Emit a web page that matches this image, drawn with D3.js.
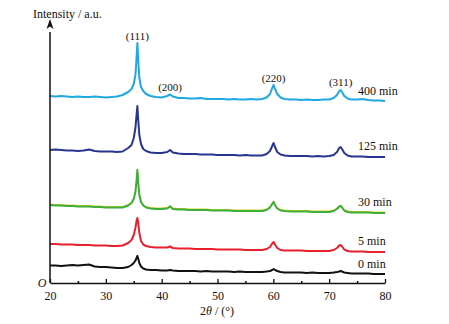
<!DOCTYPE html>
<html>
<head>
<meta charset="utf-8">
<script src="https://cdn.jsdelivr.net/npm/d3@7"></script>
<style>
  body { margin: 0; background: #fff; }
  svg { display: block; }
  text { font-family: "Liberation Serif", "DejaVu Serif", serif; fill: #111; }
</style>
</head>
<body>
<script>
// 2theta grid (degrees), shared by every pattern
var twoTheta = [20,21,22,23,24,25,26,27,28,29,30,31,32,33,34,
  34.6,35,35.3,35.5,35.65,35.8,36,36.3,36.7,37.2,
  38,39,40,41, 41.5,42,
  43,44,45,46,47,48,49,50,51,52,53,54,55,56,57,58,
  58.8,59.4,59.8,60.05,60.3,60.7,61.3,
  62,63,64,65,66,67,68,69,70,
  70.8,71.4,71.8,72.05,72.3,72.7,73.3,
  74,75,76,77,78,79,80];

// intensities (a.u., curves stacked)
var int400 = [187,186.5,187,186.5,186,186.5,186,186,186.5,186,185.5,186,186.5,188,191,
  194,199,208,225,240,223,205,196,192,189,
  187,186,185.5,187, 188.5,186.5,
  185,185,184.5,184.5,185,184,184,184,184,183.5,184,183.5,183.5,184,183.5,184,
  185.5,189,195,198,194,189,185.5,
  184,183.5,183.5,183,183.5,183,183,183.5,183.5,
  185,188,192,193,191,187,184.5,
  183.5,183.5,184,183,182.5,182.5,182];

var int125 = [133,133.5,133,132.5,132.5,132,132.5,133.5,132,131.5,131.5,131.5,131,131.5,135,
  138,145,155,168,177,163,148,139,134,132,
  130.5,130,130,131, 133,130.5,
  129.5,129,129,129,128.5,128.5,128.5,128,128,128,128,127.5,128,127.5,127.5,127.5,
  129,132,137,140,136,131,128.5,
  127.5,127,127,127,127,126.5,127,126.5,127,
  128,131,135,136,134,130,127.5,
  126.5,126.5,126.5,126,126,126,126];

var int30 = [78,77.5,77.5,77,77,76.5,76.5,76.5,76,76,75.5,75.5,75.5,75.5,77.5,
  80,84,91,102,113,100,88,81,77.5,75.5,
  74.5,74,74,74.5, 76.5,74,
  73.5,73.5,73,73,73,73,72.5,72.5,72.5,72.5,72,72,72,72,72,72,
  73,75.5,79,81,78,74.5,72.5,
  72,71.5,71.5,71.5,71.5,71,71,71,71,
  72,74,76.5,77,75.5,72.5,71,
  70.5,70.5,70.5,70.5,70,70,70];

var int5 = [39,39,38.5,38.5,38.5,38,38,38,37.5,37.5,37.5,37,37,37.5,40,
  43,48,55,62,65,60,50,42,38.5,37,
  36,35.5,35.5,35.5, 36.5,35,
  34.5,34.5,34.5,34,34,34,34,33.5,33.5,33.5,33.5,33.5,33,33,33,33,
  34,36,39.5,41,38.5,35,33,
  32.5,32.5,32.5,32.5,32,32,32,32,32,
  33,35,37.5,38,36.5,33.5,32,
  31.5,31.5,31.5,31,31,31,31];

var int0 = [17.5,17.5,17,17.5,18,17.5,18,18.5,16.5,16,16,15.5,15,15,16,
  18,20,22.5,25,27,24.5,20,16.5,14.5,13.5,
  13,13,12.5,12.5, 13,12.5,
  12,12,12,12,11.5,12,11.5,11.5,11.5,11.5,11,11.5,11,11,11,11,
  11.5,12,13,14,13,12,11,
  10.5,10.5,10.5,10.5,10,10.5,10,10,10,
  10.5,11,11.5,12,11.5,10.5,10,
  9.5,9.5,9.5,9.5,9,9,9];

var seriesNames = ["400 min", "125 min", "30 min", "5 min", "0 min"];
var seriesColors = ["#20a8e2", "#28358f", "#3cae3a", "#e8202e", "#111111"];
var seriesData = [int400, int125, int30, int5, int0];
var labelLevels = [192, 137, 81, 42, 19];

var peakLabels = ["(111)", "(200)", "(220)", "(311)"];
var peakPos = [35.65, 41.5, 60.05, 72.05];
var peakLabelLevels = [247, 196, 205, 201];

var xTicks = [20, 30, 40, 50, 60, 70, 80];
var xMinor = [25, 35, 45, 55, 65, 75];

var width = 449, height = 324;
var x = d3.scaleLinear().domain([20, 80]).range([50, 385]);
var y = d3.scaleLinear().domain([0, 263]).range([283, 20]);

var svg = d3.select("body").append("svg")
    .attr("width", width)
    .attr("height", height);

var line = d3.line()
    .x(function(d) { return x(d[0]); })
    .y(function(d) { return y(d[1]); })
    .curve(d3.curveLinear);

// patterns
seriesData.forEach(function(vals, i) {
    var pts = twoTheta.map(function(t, j) { return [t, vals[j]]; });
    if (i == 2) {
        // thin yellow fringe on the green trace
        svg.append("path")
            .attr("d", line(pts))
            .attr("transform", "translate(0,-0.8)")
            .attr("fill", "none")
            .attr("stroke", "#d8d020")
            .attr("stroke-width", 1.2);
    }
    svg.append("path")
        .attr("d", line(pts))
        .attr("fill", "none")
        .attr("stroke", seriesColors[i])
        .attr("stroke-width", 2)
        .attr("stroke-linejoin", "round");

    svg.append("text")
        .attr("x", 358)
        .attr("y", y(labelLevels[i]))
        .attr("dy", "0.35em")
        .style("font-size", "12px")
        .text(seriesNames[i]);
});

// peak indices
peakLabels.forEach(function(l, i) {
    svg.append("text")
        .attr("x", x(peakPos[i]))
        .attr("y", y(peakLabelLevels[i]))
        .attr("dy", "0.35em")
        .attr("text-anchor", "middle")
        .style("font-size", "11px")
        .text(l);
});

// x axis, ticks pointing inward
var xAxis = svg.append("g")
    .attr("transform", "translate(0," + y(0) + ")")
    .call(d3.axisBottom(x).tickValues(xTicks).tickSize(-4).tickSizeOuter(0).tickPadding(8));
xAxis.select(".domain").attr("stroke", "#111").attr("stroke-width", 1.5);
xAxis.selectAll(".tick line").attr("stroke", "#111").attr("stroke-width", 1.3);
xAxis.selectAll(".tick text")
    .style("font-family", "Liberation Serif, DejaVu Serif, serif")
    .style("font-size", "12px")
    .attr("fill", "#111");

var xMinorAxis = svg.append("g")
    .attr("transform", "translate(0," + y(0) + ")")
    .call(d3.axisBottom(x).tickValues(xMinor).tickSize(-2).tickFormat(""));
xMinorAxis.select(".domain").remove();
xMinorAxis.selectAll(".tick line").attr("stroke", "#111").attr("stroke-width", 1.5);

// y axis with arrow
svg.append("line")
    .attr("x1", x(20)).attr("x2", x(20))
    .attr("y1", y(0)).attr("y2", y(251))
    .attr("stroke", "#111")
    .attr("stroke-width", 1.5);
svg.append("path")
    .attr("d", "M" + x(20) + "," + y(264) + "l-3.5,10l3.5,-2.5l3.5,2.5z")
    .attr("fill", "#111");

svg.append("text")
    .attr("x", 33).attr("y", 14)
    .attr("dy", "0.35em")
    .style("font-size", "12px")
    .text("Intensity / a.u.");

svg.append("text")
    .attr("x", 42).attr("y", y(0))
    .attr("dy", "0.35em")
    .attr("text-anchor", "middle")
    .style("font-size", "12px")
    .style("font-style", "italic")
    .text("O");

var xl = svg.append("text")
    .attr("x", 217).attr("y", 311)
    .attr("dy", "0.35em")
    .attr("text-anchor", "middle")
    .style("font-size", "12px");
xl.append("tspan").text("2");
xl.append("tspan").style("font-style", "italic").text("θ");
xl.append("tspan").text(" / (°)");
</script>
</body>
</html>
